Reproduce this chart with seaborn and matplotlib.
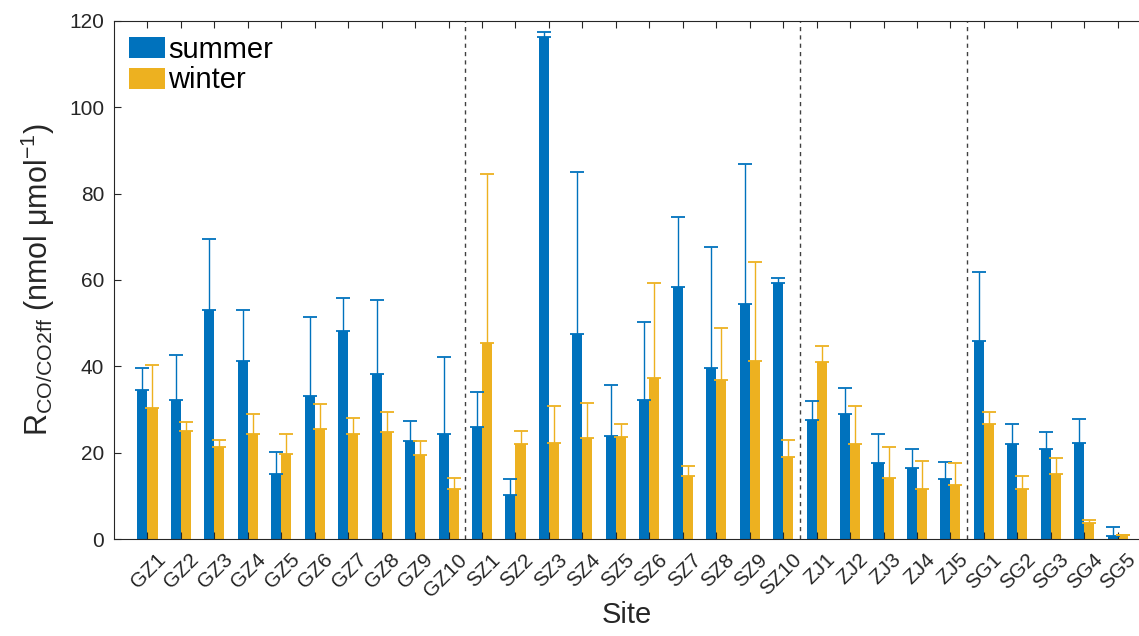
import pandas as pd
import matplotlib.pyplot as plt
import matplotlib.transforms as mtransforms
import seaborn as sns
import numpy as np

sites = ["GZ1", "GZ2", "GZ3", "GZ4", "GZ5", "GZ6", "GZ7", "GZ8", "GZ9", "GZ10",
         "SZ1", "SZ2", "SZ3", "SZ4", "SZ5", "SZ6", "SZ7", "SZ8", "SZ9", "SZ10",
         "ZJ1", "ZJ2", "ZJ3", "ZJ4", "ZJ5",
         "SG1", "SG2", "SG3", "SG4", "SG5"]

summer = [34.5, 32.3, 53.0, 41.2, 15.0, 33.1, 48.3, 38.3, 22.7, 24.4,
          25.9, 10.3, 116.4, 47.5, 23.9, 32.3, 58.3, 39.7, 54.4, 59.4,
          27.6, 29.0, 17.5, 16.4, 13.9,
          45.9, 22.0, 20.9, 22.3, 0.6]
summer_top = [39.7, 42.6, 69.5, 53.0, 20.1, 51.5, 55.8, 55.4, 27.4, 42.1,
              34.1, 13.9, 117.4, 85.0, 35.6, 50.2, 74.6, 67.6, 86.8, 60.5,
              32.0, 34.9, 24.3, 20.8, 17.8,
              61.8, 26.6, 24.8, 27.8, 2.7]

winter = [30.3, 25.1, 21.3, 24.4, 19.7, 25.4, 24.4, 24.9, 19.5, 11.7,
          45.5, 22.0, 22.3, 23.3, 23.7, 37.2, 14.5, 36.8, 41.2, 18.9,
          41.0, 21.9, 14.1, 11.7, 12.6,
          26.6, 11.6, 15.0, 3.7, 1.0]
winter_top = [40.3, 27.0, 23.0, 28.9, 24.3, 31.3, 28.1, 29.5, 22.6, 14.1,
              84.5, 25.1, 30.9, 31.4, 26.7, 59.2, 17.0, 48.9, 64.2, 23.0,
              44.6, 30.9, 21.4, 18.0, 17.5,
              29.4, 14.7, 18.7, 4.4, 1.0]

group_breaks = [9.5, 19.5, 24.5]
seasons = ["summer", "winter"]
colors = ["#0072BD", "#EDB120"]

df = pd.DataFrame({
    "Site": sites * 2,
    "season": ["summer"] * len(sites) + ["winter"] * len(sites),
    "value": summer + winter,
    "top": summer_top + winter_top,
})

plt.rcParams["font.family"] = ["Liberation Sans", "DejaVu Sans"]
plt.rcParams["mathtext.fontset"] = "custom"
plt.rcParams["mathtext.rm"] = "Liberation Sans"
plt.rcParams["mathtext.it"] = "Liberation Sans:italic"

fig = plt.figure(figsize=(11.39, 6.36), dpi=100)
ax = fig.add_axes([0.1001, 0.1525, 0.9, 0.8145])

sns.barplot(data=df, x="Site", y="value", hue="season", palette=colors,
            hue_order=seasons, width=0.6, gap=0, linewidth=0, saturation=1,
            errorbar=None, ax=ax)

# upper-only error bars placed on the bars seaborn drew
for cont, season, col in zip(ax.containers, seasons, colors):
    sub = df[df["season"] == season]
    xs = [p.get_x() + p.get_width() / 2 for p in cont.patches]
    vals = sub["value"].to_numpy()
    ups = sub["top"].to_numpy() - vals
    ax.errorbar(xs, vals, yerr=[np.zeros_like(ups), ups], fmt="none",
                ecolor=col, elinewidth=1, capsize=5, capthick=1.3)

for b in group_breaks:
    ax.axvline(b, color="#404040", ls=(0, (3, 3)), lw=1)

ax.set_xlim(-1, 29.64)
ax.set_ylim(0, 120)
ax.set_yticks(range(0, 121, 20))
ax.tick_params(direction="in", top=True, length=5, colors="#262626",
               labelsize=15)
ax.tick_params(axis="y", pad=7)
ax.tick_params(axis="x", pad=8)
shift = mtransforms.ScaledTranslation(6 / 72, 0, fig.dpi_scale_trans)
for lab in ax.get_xticklabels():
    lab.set_rotation(45)
    lab.set_ha("right")
    lab.set_va("top")
    lab.set_rotation_mode("anchor")
    lab.set_transform(lab.get_transform() + shift)
for s in ["left", "top", "bottom"]:
    ax.spines[s].set_color("#262626")
    ax.spines[s].set_linewidth(0.8)
ax.spines["right"].set_visible(False)

ax.set_xlabel("Site", fontsize=21, color="#262626", labelpad=0)
ax.set_ylabel(r"R$_{\mathrm{CO/CO2ff}}$ (nmol μmol$^{-1}$)", fontsize=22,
              color="#262626", labelpad=9)

ax.legend(loc="upper left", frameon=False, fontsize=21, handlelength=1.25,
          handleheight=0.72, handletextpad=0.1, labelspacing=0.1,
          borderaxespad=0.15, borderpad=0.35)

plt.savefig("out.png", dpi=100)
